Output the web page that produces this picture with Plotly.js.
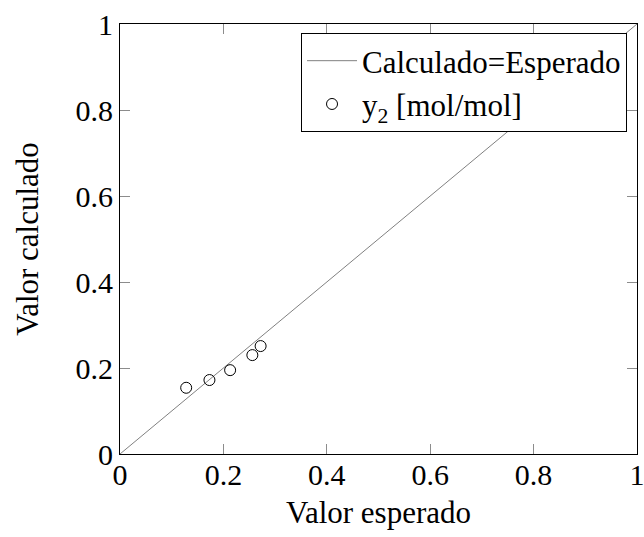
<!DOCTYPE html>
<html>
<head>
<meta charset="utf-8">
<script src="https://cdn.plot.ly/plotly-3.0.1.min.js"></script>
<style>
  html, body { margin: 0; padding: 0; background: #fff; }
  #chart { width: 644px; height: 537px; }
</style>
</head>
<body>
<div id="chart"></div>
<script>
// Parity line (calculated = expected)
const parityX = [0, 1];
const parityY = [0, 1];

// Mole fraction y2: expected vs calculated
const expectedY2 = [0.128, 0.173, 0.213, 0.256, 0.272];
const calculatedY2 = [0.154, 0.172, 0.195, 0.230, 0.251];

// Axis ticks
const tickValues = [0, 0.2, 0.4, 0.6, 0.8, 1];
const tickText = ['0', '0.2', '0.4', '0.6', '0.8', '1'];

const serif = '"Liberation Serif", "Times New Roman", Times, serif';
const tickFont = { family: serif, size: 30, color: '#000' };
const titleFont = { family: serif, size: 31, color: '#000' };
const legendFont = { family: serif, size: 31, color: '#000' };

const traces = [
  {
    x: parityX,
    y: parityY,
    mode: 'lines',
    name: 'Calculado=Esperado',
    line: { color: '#808080', width: 1 },
    hoverinfo: 'skip'
  },
  {
    x: expectedY2,
    y: calculatedY2,
    mode: 'markers',
    name: 'y<sub>2</sub> [mol/mol]',
    marker: {
      symbol: 'circle-open',
      size: 11,
      color: '#000',
      line: { color: '#000', width: 1 }
    }
  }
];

function axis(titleText, standoff, labelShift) {
  return {
    range: [0, 1],
    tickvals: tickValues,
    ticktext: tickText,
    ticks: 'inside',
    ticklen: 10,
    tickwidth: 1,
    tickcolor: '#8c8c8c',
    showline: true,
    linecolor: '#000',
    linewidth: 1,
    mirror: 'ticks',
    showgrid: false,
    zeroline: false,
    fixedrange: true,
    automargin: false,
    ticklabeloverflow: 'allow',
    ticklabelstandoff: labelShift,
    tickfont: tickFont,
    title: { text: titleText, standoff: standoff, font: titleFont }
  };
}

const layout = {
  width: 644,
  height: 537,
  margin: { l: 120, r: 7, t: 24, b: 83 },
  paper_bgcolor: '#fff',
  plot_bgcolor: '#fff',
  showlegend: true,
  xaxis: axis('Valor esperado', 11, -6),
  yaxis: axis('Valor calculado', 27, 0),
  legend: {
    x: 0.9807,
    y: 0.979,
    xanchor: 'right',
    yanchor: 'top',
    bgcolor: '#fff',
    bordercolor: '#000',
    borderwidth: 1,
    font: legendFont,
    itemwidth: 50,
    tracegroupgap: 0
  }
};

Plotly.newPlot('chart', traces, layout, { displayModeBar: false, staticPlot: true });
</script>
</body>
</html>
